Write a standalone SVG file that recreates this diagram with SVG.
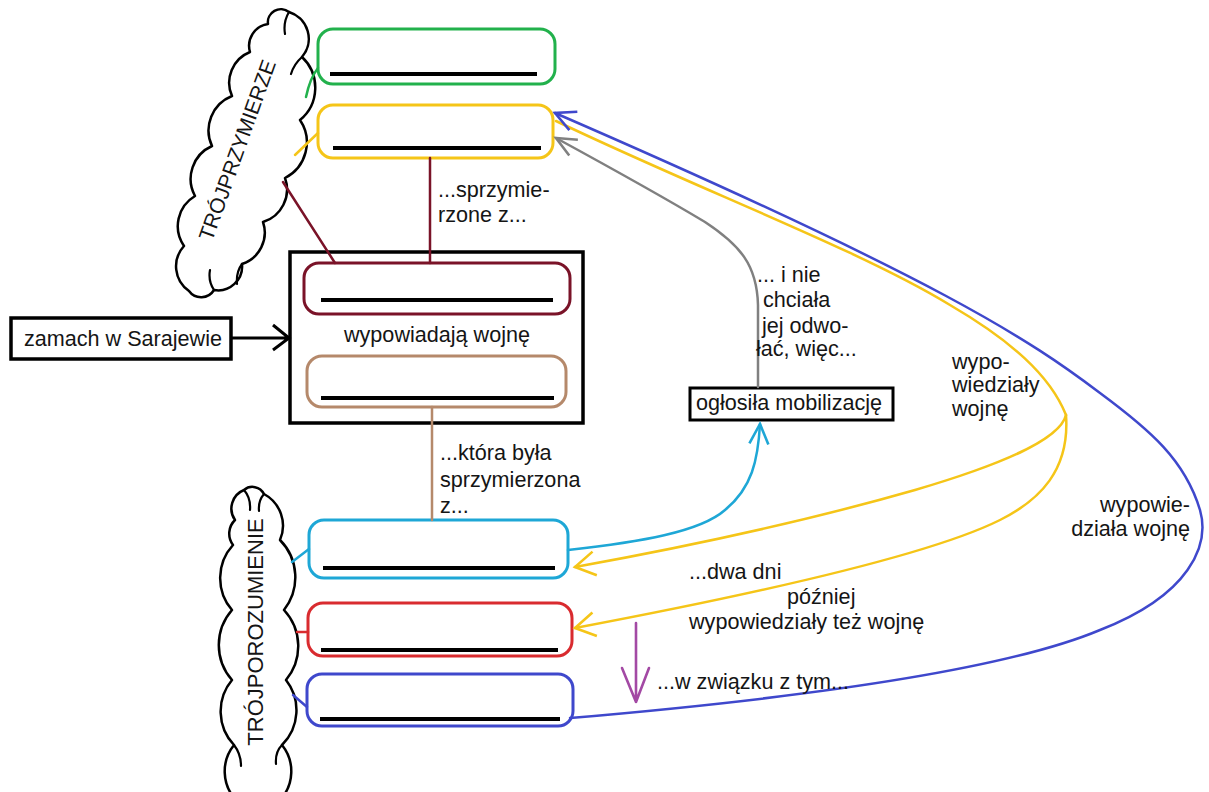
<svg xmlns="http://www.w3.org/2000/svg" width="1209" height="792" viewBox="0 0 1209 792">
<style>
.t{font-family:"Liberation Sans",Arial,sans-serif;font-size:21.6px;fill:#151515}
.ct{font-family:"Liberation Sans",Arial,sans-serif;font-size:21px;fill:#151515}
.box{fill:#fff;stroke-width:3}
.ul{stroke:#000;stroke-width:4}
.cloud{fill:#fff;stroke:#000;stroke-width:2.5;stroke-linejoin:round}
.curl{fill:none;stroke:#000;stroke-width:2.2;stroke-linecap:round}
.c{fill:none;stroke-width:2.5;stroke-linecap:round}
</style>
<defs>
<marker id="ah-yellow" viewBox="-23 -14 26 28" refX="0" refY="0" markerWidth="26" markerHeight="28" markerUnits="userSpaceOnUse" orient="auto"><path d="M-20,-12 L0,0 L-20,12" fill="none" stroke="#f5c518" stroke-width="2.6"/></marker>
<marker id="ah-blue" viewBox="-23 -14 26 28" refX="0" refY="0" markerWidth="26" markerHeight="28" markerUnits="userSpaceOnUse" orient="auto"><path d="M-20,-10 L0,0 L-20,10" fill="none" stroke="#3f48cc" stroke-width="2.6"/></marker>
<marker id="ah-gray" viewBox="-23 -14 26 28" refX="0" refY="0" markerWidth="26" markerHeight="28" markerUnits="userSpaceOnUse" orient="auto"><path d="M-20,-9 L0,0 L-20,9" fill="none" stroke="#808080" stroke-width="2.6"/></marker>
<marker id="ah-cyan" viewBox="-23 -14 26 28" refX="0" refY="0" markerWidth="26" markerHeight="28" markerUnits="userSpaceOnUse" orient="auto"><path d="M-20,-9.5 L0,0 L-20,9.5" fill="none" stroke="#1ea7d6" stroke-width="2.6"/></marker>
</defs>
<rect width="1209" height="792" fill="#fff"/>

<g id="cloud-trojprzymierze">
<path class="cloud" d="M268,24 A13,13 0 0 1 289,12 A28,28 0 0 1 302,57 A42,42 0 0 1 300,120 A40,40 0 0 1 285,178 A34,34 0 0 1 263,222 A33,33 0 0 1 242,264 A24,24 0 0 1 214,290 A15,15 0 0 1 189,291 A30,30 0 0 1 184,246 A35,35 0 0 1 195,196 A36,36 0 0 1 212,146 A37,37 0 0 1 232,96 A33,33 0 0 1 250,52 A22,22 0 0 1 268,24 Z"/>
<path class="curl" d="M289,12 Q283,22 285,34 M302,57 Q294,64 291,74 M242,264 Q236,272 237,284 M214,290 Q208,281 210,270"/>
<text class="ct" transform="translate(237,150) rotate(-70.3)" x="0" y="7.5" text-anchor="middle">TRÓJPRZYMIERZE</text>
</g>

<g id="cloud-trojporozumienie">
<path class="cloud" d="M235,520 A20,20 0 0 1 244,490 A13,13 0 0 1 264,494 A36,36 0 0 1 280,540 A53,53 0 0 1 284,610 A53,53 0 0 1 286,680 A49,49 0 0 1 282,745 A42,42 0 0 1 280,800 L236,800 A42,42 0 0 1 234,745 A49,49 0 0 1 232,680 A53,53 0 0 1 232,610 A49,49 0 0 1 233,545 A19,19 0 0 1 235,520 Z"/>
<path class="curl" d="M244,490 Q251,498 250,510 M264,494 Q258,501 259,511 M282,745 Q275,752 276,764 M234,745 Q241,754 241,766"/>
<text class="t" transform="translate(255,632) rotate(-90)" x="0" y="8" text-anchor="middle" style="font-size:22px">TRÓJPOROZUMIENIE</text>
</g>

<g id="node-green">
<rect class="box" x="318" y="29" width="237" height="55" rx="15" stroke="#22b14c"/>
<line class="ul" x1="330" y1="74" x2="537" y2="74"/>
</g>
<g id="node-yellow">
<rect class="box" x="318" y="105" width="235" height="53" rx="15" stroke="#f5c518"/>
<line class="ul" x1="333" y1="148" x2="541" y2="148"/>
</g>

<g id="node-wypowiadaja">
<rect x="290" y="252" width="293" height="171" fill="#fff" stroke="#000" stroke-width="3.5"/>
<g id="node-maroon">
<rect class="box" x="304" y="263" width="266" height="51" rx="15" stroke="#7a1328"/>
<line class="ul" x1="321" y1="300" x2="553" y2="300"/>
</g>
<text class="t" x="437" y="342" text-anchor="middle">wypowiadają wojnę</text>
<g id="node-brown">
<rect class="box" x="307" y="356" width="259" height="51" rx="15" stroke="#b5896b"/>
<line class="ul" x1="321" y1="398" x2="554" y2="398"/>
</g>
</g>

<g id="node-zamach">
<rect x="11" y="318" width="220" height="41" fill="#fff" stroke="#000" stroke-width="3.5"/>
<text class="t" x="24" y="346">zamach w Sarajewie</text>
</g>

<g id="node-mobilizacja">
<rect x="690" y="388" width="203" height="32" fill="#fff" stroke="#000" stroke-width="3"/>
<text class="t" x="696" y="410">ogłosiła mobilizację</text>
</g>

<g id="node-cyan">
<rect class="box" x="309" y="520" width="259" height="58" rx="15" stroke="#1ea7d6"/>
<line class="ul" x1="323" y1="568" x2="555" y2="568"/>
</g>
<g id="node-red">
<rect class="box" x="308" y="603" width="264" height="53" rx="15" stroke="#d92b2f"/>
<line class="ul" x1="321" y1="650" x2="558" y2="650"/>
</g>
<g id="node-blue">
<rect class="box" x="307" y="674" width="266" height="52" rx="15" stroke="#3f48cc"/>
<line class="ul" x1="320" y1="719" x2="560" y2="719"/>
</g>

<g id="connectors">
<path class="c" stroke="#22b14c" d="M306,97 Q310,78 318,68"/>
<path class="c" stroke="#f5c518" d="M295,155 L318,133"/>
<path class="c" stroke="#7a1328" d="M283,182 L335,263"/>
<path class="c" stroke="#7a1328" d="M430,158 L430,263"/>
<path class="c" stroke="#b5896b" d="M432,407 L432,520"/>
<path class="c" stroke="#1ea7d6" d="M292,562 L309,549"/>
<path class="c" stroke="#d92b2f" d="M297,632 L308,632"/>
<path class="c" stroke="#3f48cc" d="M293,695 L307,707"/>
<path fill="none" stroke="#000" stroke-width="3" d="M231,338 L289,338 M273,325 L289,338 L273,350"/>
<path class="c" stroke="#808080" d="M758,387 L758,305 C757,265 740,245 705,222 C660,195 600,162 556,138" marker-end="url(#ah-gray)"/>
<path class="c" stroke="#1ea7d6" d="M568,550 C640,542 700,532 725,510 C752,488 758,460 760,424" marker-end="url(#ah-cyan)"/>
<path class="c" stroke="#f5c518" d="M556,121 C700,190 860,250 950,305 C1010,340 1050,375 1066,415"/>
<path class="c" stroke="#f5c518" d="M1066,415 C1060,440 1000,465 915,490 C800,523 680,548 575,567" marker-end="url(#ah-yellow)"/>
<path class="c" stroke="#f5c518" d="M1066,415 C1070,470 1040,500 1000,520 C930,555 750,595 575,628" marker-end="url(#ah-yellow)"/>
<path class="c" stroke="#3f48cc" d="M570,718 C780,700 1000,672 1100,630 C1190,595 1210,545 1200,510 C1185,460 1150,430 1100,393 C1030,340 940,280 555,113" marker-end="url(#ah-blue)"/>
<path fill="none" stroke="#a349a4" stroke-width="2.6" stroke-linecap="round" stroke-linejoin="round" d="M636,623 L636,702 M622,668 L636,702 L649,668"/>
</g>

<g id="labels">
<text class="t" x="438" y="197">...sprzymie-</text>
<text class="t" x="438" y="222">rzone z...</text>
<text class="t" x="440" y="460">...która była</text>
<text class="t" x="440" y="487">sprzymierzona</text>
<text class="t" x="440" y="513">z...</text>
<text class="t" x="757" y="282">... i nie</text>
<text class="t" x="763" y="307">chciała</text>
<text class="t" x="762" y="333">jej odwo-</text>
<text class="t" x="756" y="356">łać, więc...</text>
<text class="t" x="952" y="369">wypo-</text>
<text class="t" x="952" y="392">wiedziały</text>
<text class="t" x="952" y="416">wojnę</text>
<text class="t" x="1190" y="512" text-anchor="end">wypowie-</text>
<text class="t" x="1190" y="536" text-anchor="end">działa wojnę</text>
<text class="t" x="689" y="579">...dwa dni</text>
<text class="t" x="787" y="604">później</text>
<text class="t" x="689" y="629">wypowiedziały też wojnę</text>
<text class="t" x="657" y="689">...w związku z tym...</text>
</g>
</svg>
